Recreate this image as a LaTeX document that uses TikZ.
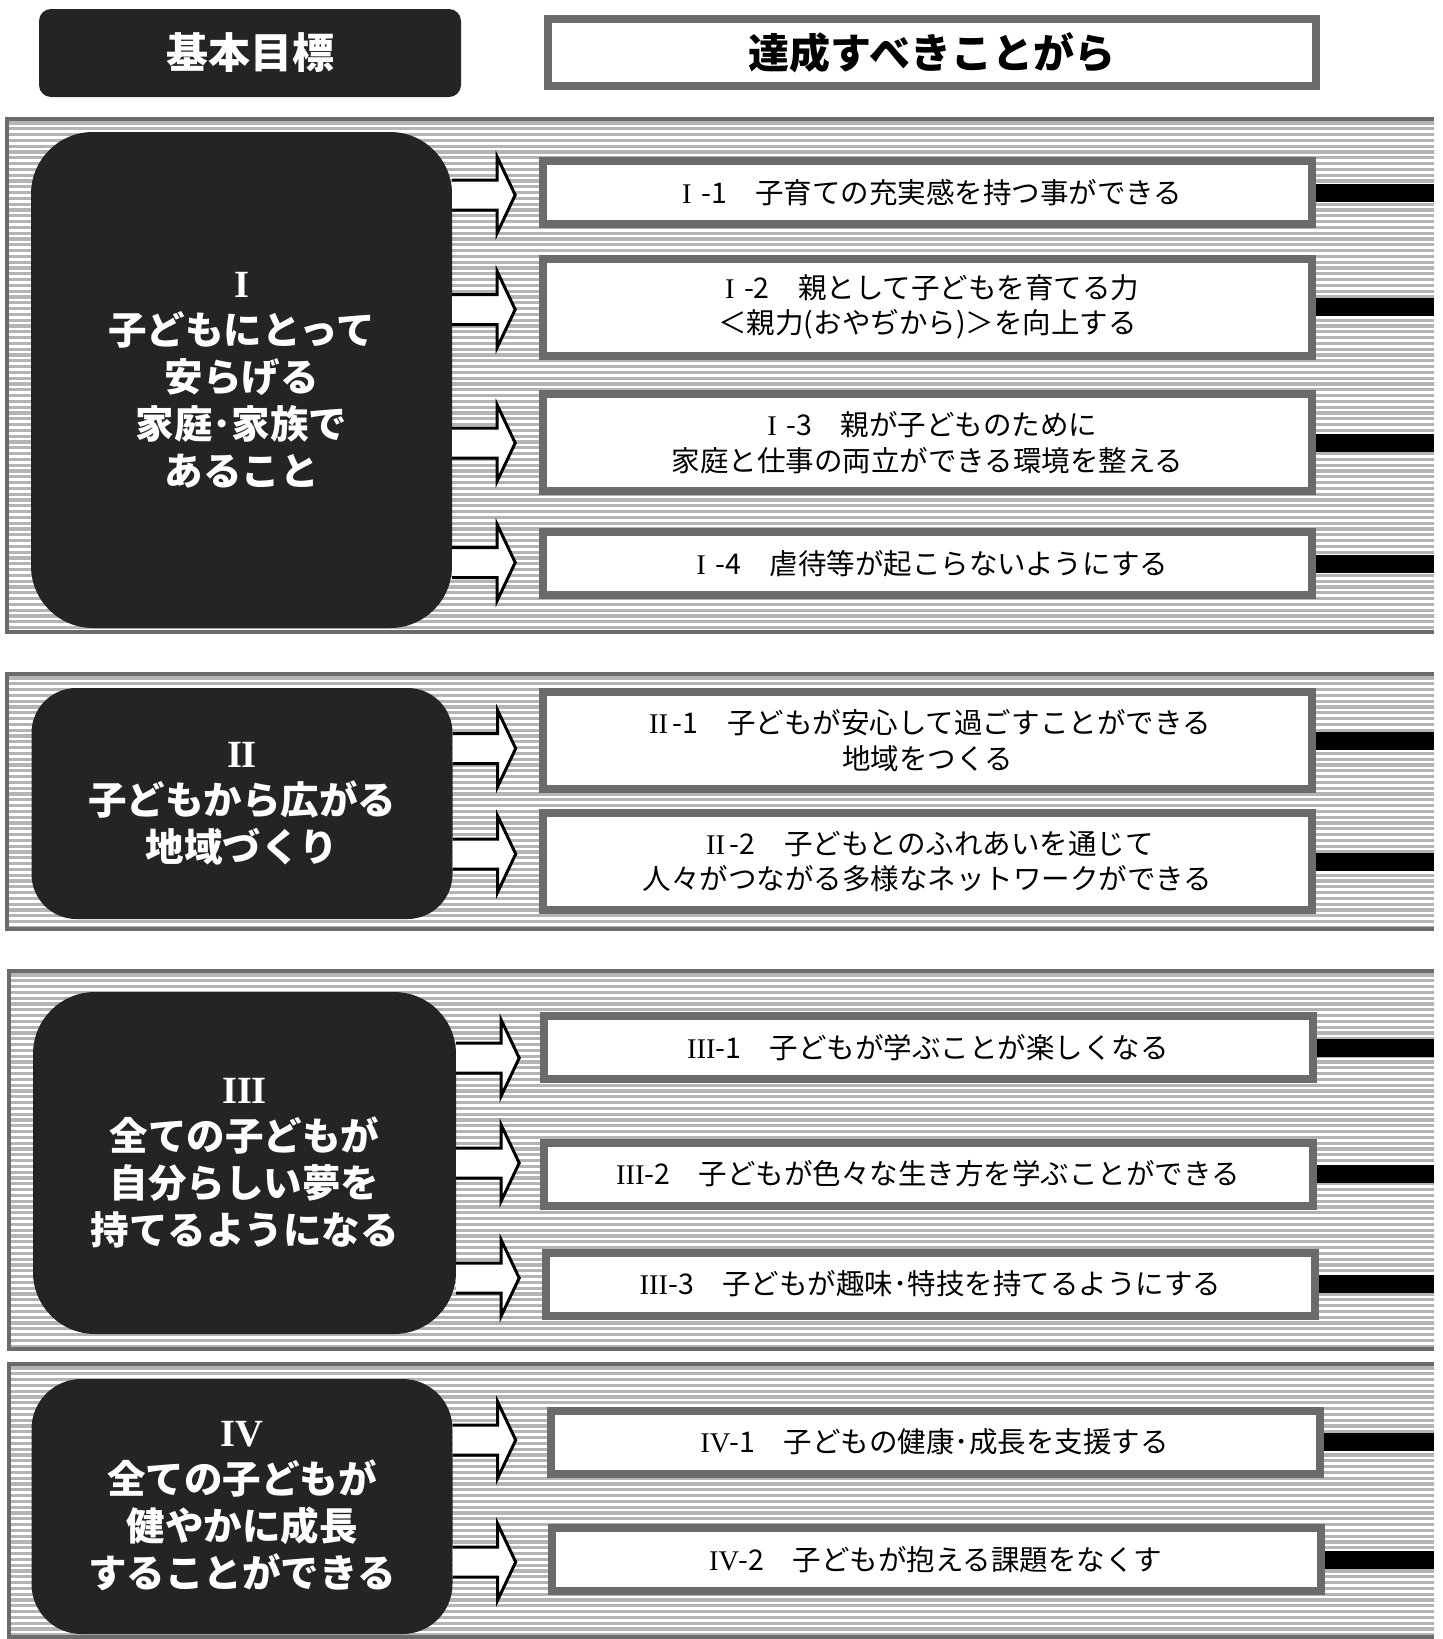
\documentclass[tikz,border=0pt]{standalone}
\usepackage{fontspec}
\setmainfont{Noto Sans CJK JP}
\newfontfamily\numfont{Liberation Serif}

\definecolor{boxdark}{HTML}{242424}
\definecolor{rimgray}{HTML}{6B6B6B}
\definecolor{stripegray}{HTML}{B4B4B4}

% roman numeral set in a full-width cell, as the original font does
\newcommand{\rn}[1]{\makebox[1em]{\numfont #1}}

% striped band behind each goal: top, bottom, left edge
\newcommand{\stripeband}[3]{%
  \begin{scope}
    \clip (#3,#1) rectangle (1434,#2);
    \foreach \k in {0,...,92} {
      \pgfmathsetmacro\yy{#1+4+5.8*\k}
      \draw[stripegray, line width=3.3pt] (0,\yy) -- (1443,\yy);
    }
  \end{scope}
  \draw[rimgray, line width=3.5pt] (1434,#1) -- (#3,#1) -- (#3,#2) -- (1434,#2);
}

\begin{document}
\begin{tikzpicture}[x=1pt, y=-1pt,
  headdark/.style={fill=boxdark, rounded corners=12pt, text=white, minimum width=422pt, minimum height=88pt, inner sep=0pt, font=\bfseries\fontsize{42}{50}\selectfont},
  headlight/.style={draw=rimgray, line width=8pt, fill=white, minimum width=768pt, minimum height=67pt, inner sep=0pt, font=\bfseries\fontsize{41}{50}\selectfont},
  goalbox/.style={fill=boxdark, text=white, align=center, minimum width=421pt, inner sep=0pt, font=\bfseries\fontsize{38.5}{47}\selectfont},
  itembox/.style={draw=rimgray, line width=8pt, fill=white, align=center, minimum width=769pt, minimum height=63pt, inner sep=0pt, font=\fontsize{28.5}{35.5}\selectfont},
  tallbox/.style={itembox, minimum height=97pt},
  linkbar/.style={draw=black, line width=18pt},
  blockarrow/.style={draw=black, fill=white, line width=3pt, line join=miter}
]
\useasboundingbox (0,0) rectangle (1443,1639);

\coordinate (rim) at (1434,0);

\stripeband{119}{632}{7}
\stripeband{674}{929}{7}
\stripeband{971}{1349}{9}
\stripeband{1364}{1637}{9}

\node[headdark] (headgoal) at (250,53) {基本目標};
\node[headlight] (headitem) at (932,52.5) {達成すべきことがら};

\node[itembox] (item11) at (927.5,192.5) {\rn{I}-1　子育ての充実感を持つ事ができる};
\node[tallbox] (item12) at (927.5,307) {\rn{I}-2　親として子どもを育てる力\\＜親力(おやぢから)＞を向上する};
\node[tallbox] (item13) at (927.5,442.5) {\rn{I}-3　親が子どものために\\家庭と仕事の両立ができる環境を整える};
\node[itembox] (item14) at (927.5,563.5) {\rn{I}-4　虐待等が起こらないようにする};

\node[tallbox] (item21) at (927.5,740.5) {\rn{II}-1　子どもが安心して過ごすことができる\\地域をつくる};
\node[tallbox] (item22) at (927.5,861.5) {\rn{II}-2　子どもとのふれあいを通じて\\人々がつながる多様なネットワークができる};

\node[itembox] (item31) at (928,1047.5) {\rn{III}-1　子どもが学ぶことが楽しくなる};
\node[itembox] (item32) at (928,1174) {\rn{III}-2　子どもが色々な生き方を学ぶことができる};
\node[itembox] (item33) at (930.5,1284) {\rn{III}-3　子どもが趣味･特技を持てるようにする};

\node[itembox] (item41) at (935,1442) {\rn{IV}-1　子どもの健康･成長を支援する};
\node[itembox] (item42) at (936,1559.5) {\rn{IV}-2　子どもが抱える課題をなくす};

\draw[linkbar] (item11.east) -- (item11.east -| rim);
\draw[linkbar] (item12.east) -- (item12.east -| rim);
\draw[linkbar] (item13.east) -- (item13.east -| rim);
\draw[linkbar] (item14.east) -- (item14.east -| rim);
\draw[linkbar] (item21.east) -- (item21.east -| rim);
\draw[linkbar] (item22.east) -- (item22.east -| rim);
\draw[linkbar] (item31.east) -- (item31.east -| rim);
\draw[linkbar] (item32.east) -- (item32.east -| rim);
\draw[linkbar] (item33.east) -- (item33.east -| rim);
\draw[linkbar] (item41.east) -- (item41.east -| rim);
\draw[linkbar] (item42.east) -- (item42.east -| rim);

\node[goalbox, rounded corners=62pt, minimum height=496pt] (goal1) at (241.5,380) {{\numfont I}\\子どもにとって\\安らげる\\家庭･家族で\\あること};
\node[goalbox, rounded corners=45pt, minimum height=231pt] (goal2) at (242,803.5) {{\numfont II}\\子どもから広がる\\地域づくり};
\node[goalbox, rounded corners=62pt, minimum height=342pt, minimum width=423pt] (goal3) at (244.5,1163) {{\numfont III}\\全ての子どもが\\自分らしい夢を\\持てるようになる};
\node[goalbox, rounded corners=50pt, minimum height=255pt] (goal4) at (242,1506.5) {{\numfont IV}\\全ての子どもが\\健やかに成長\\することができる};

\draw[blockarrow] (goal1.east |- 0,195) ++(0,-15) -- ++(45,0) -- ++(0,-23) -- ++(18,38) -- ++(-18,38) -- ++(0,-23) -- ++(-45,0);
\draw[blockarrow] (goal1.east |- 0,309.5) ++(0,-15) -- ++(45,0) -- ++(0,-23) -- ++(18,38) -- ++(-18,38) -- ++(0,-23) -- ++(-45,0);
\draw[blockarrow] (goal1.east |- 0,443) ++(0,-15) -- ++(45,0) -- ++(0,-23) -- ++(18,38) -- ++(-18,38) -- ++(0,-23) -- ++(-45,0);
\draw[blockarrow] (goal1.east |- 0,562.5) ++(0,-15) -- ++(45,0) -- ++(0,-23) -- ++(18,38) -- ++(-18,38) -- ++(0,-23) -- ++(-45,0);

\draw[blockarrow] (goal2.east |- 0,748.5) ++(0,-15) -- ++(45,0) -- ++(0,-23) -- ++(18,38) -- ++(-18,38) -- ++(0,-23) -- ++(-45,0);
\draw[blockarrow] (goal2.east |- 0,854) ++(0,-15) -- ++(45,0) -- ++(0,-23) -- ++(18,38) -- ++(-18,38) -- ++(0,-23) -- ++(-45,0);

\draw[blockarrow] (goal3.east |- 0,1058) ++(0,-15) -- ++(45,0) -- ++(0,-23) -- ++(18,38) -- ++(-18,38) -- ++(0,-23) -- ++(-45,0);
\draw[blockarrow] (goal3.east |- 0,1163) ++(0,-15) -- ++(45,0) -- ++(0,-23) -- ++(18,38) -- ++(-18,38) -- ++(0,-23) -- ++(-45,0);
\draw[blockarrow] (goal3.east |- 0,1278) ++(0,-15) -- ++(45,0) -- ++(0,-23) -- ++(18,38) -- ++(-18,38) -- ++(0,-23) -- ++(-45,0);

\draw[blockarrow] (goal4.east |- 0,1440) ++(0,-15) -- ++(45,0) -- ++(0,-23) -- ++(18,38) -- ++(-18,38) -- ++(0,-23) -- ++(-45,0);
\draw[blockarrow] (goal4.east |- 0,1562) ++(0,-15) -- ++(45,0) -- ++(0,-23) -- ++(18,38) -- ++(-18,38) -- ++(0,-23) -- ++(-45,0);

\end{tikzpicture}
\end{document}
